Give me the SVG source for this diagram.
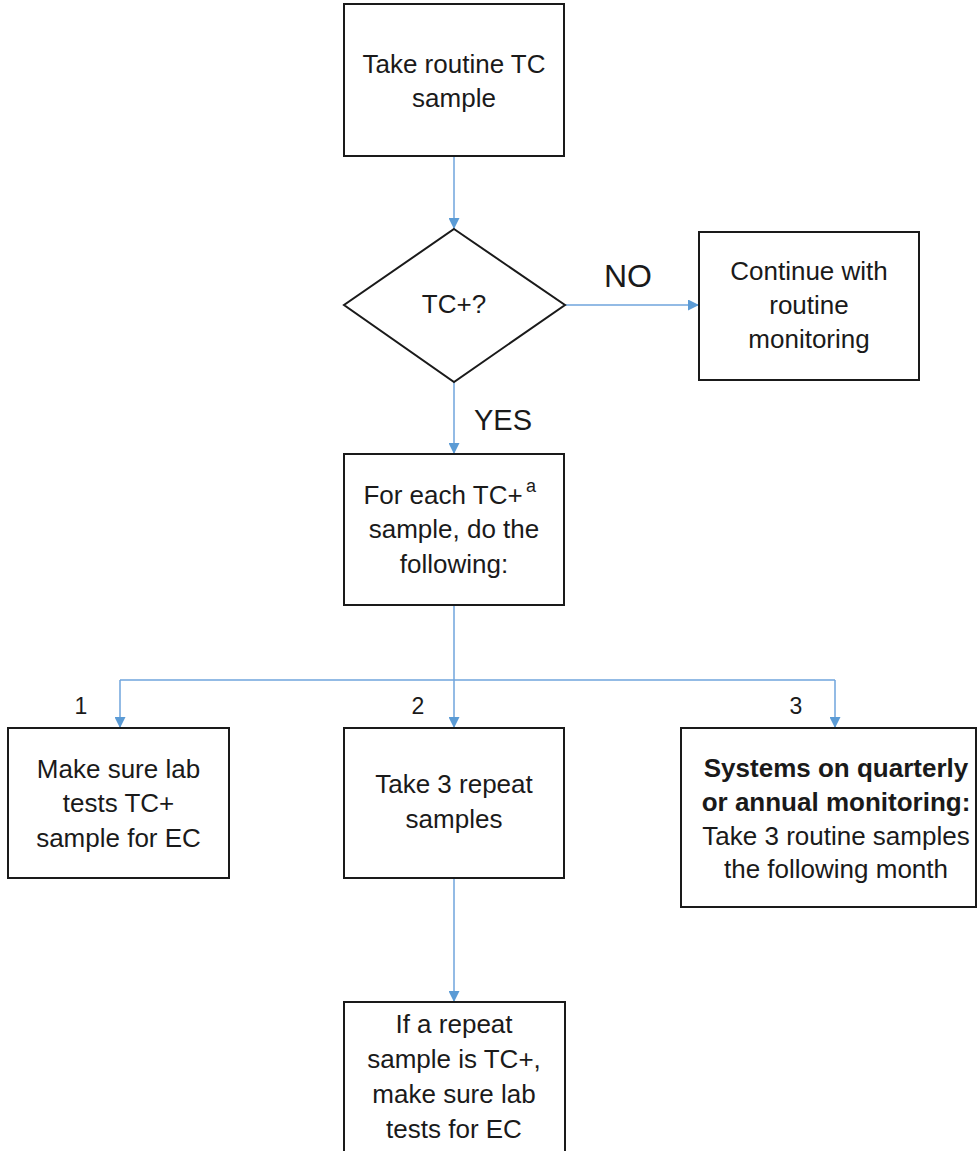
<svg xmlns="http://www.w3.org/2000/svg" width="979" height="1151" viewBox="0 0 979 1151">
  <defs>
    <marker id="arr" markerUnits="userSpaceOnUse" markerWidth="11" markerHeight="11" refX="11" refY="5.5" orient="auto">
      <path d="M0,0 L11,5.5 L0,11 z" fill="#5b9bd5"/>
    </marker>
    <style>
      .box { fill: #ffffff; stroke: #1a1a1a; stroke-width: 2; }
      .t { font-family: "Liberation Sans", Arial, sans-serif; font-size: 26px; fill: #1a1a1a; text-anchor: middle; }
      .b { font-weight: bold; }
      .lbl { font-family: "Liberation Sans", Arial, sans-serif; fill: #1a1a1a; }
      .con { fill: none; stroke: #6fa4dc; stroke-width: 1.5; }
    </style>
  </defs>
  <rect width="979" height="1151" fill="#ffffff"/>

  <g id="connectors">
    <line class="con" x1="454" y1="156" x2="454" y2="229" marker-end="url(#arr)"/>
    <line class="con" x1="565" y1="305" x2="699" y2="305" marker-end="url(#arr)"/>
    <line class="con" x1="454" y1="382" x2="454" y2="454" marker-end="url(#arr)"/>
    <line class="con" x1="454" y1="605" x2="454" y2="728" marker-end="url(#arr)"/>
    <polyline class="con" points="120,680 835,680"/>
    <line class="con" x1="120" y1="680" x2="120" y2="728" marker-end="url(#arr)"/>
    <line class="con" x1="835" y1="680" x2="835" y2="728" marker-end="url(#arr)"/>
    <line class="con" x1="454" y1="878" x2="454" y2="1002" marker-end="url(#arr)"/>
    <text class="lbl" x="604" y="287" font-size="32">NO</text>
    <text class="lbl" x="474" y="430" font-size="29">YES</text>
    <text class="lbl" x="81" y="714" font-size="23" text-anchor="middle">1</text>
    <text class="lbl" x="418" y="714" font-size="23" text-anchor="middle">2</text>
    <text class="lbl" x="796" y="714" font-size="23" text-anchor="middle">3</text>
  </g>

  <g id="n-take-routine">
    <rect class="box" x="344" y="4" width="220" height="152"/>
    <text class="t" x="454" y="73">Take routine TC</text>
    <text class="t" x="454" y="107">sample</text>
  </g>

  <g id="n-decision">
    <polygon class="box" points="454,229 565,305 454,382 344,305"/>
    <text class="t" x="454" y="313" font-size="21">TC+?</text>
  </g>

  <g id="n-continue">
    <rect class="box" x="699" y="232" width="220" height="148"/>
    <text class="t" x="809" y="280">Continue with</text>
    <text class="t" x="809" y="314">routine</text>
    <text class="t" x="809" y="348">monitoring</text>
  </g>

  <g id="n-for-each">
    <rect class="box" x="344" y="454" width="220" height="151"/>
    <text class="t" x="443" y="504">For each TC+</text>
    <text class="lbl" x="526" y="492" font-size="18">a</text>
    <text class="t" x="454" y="538">sample, do the</text>
    <text class="t" x="454" y="573">following:</text>
  </g>

  <g id="n-lab-tests">
    <rect class="box" x="8" y="728" width="221" height="150"/>
    <text class="t" x="118.5" y="778">Make sure lab</text>
    <text class="t" x="118.5" y="812">tests TC+</text>
    <text class="t" x="118.5" y="847">sample for EC</text>
  </g>

  <g id="n-repeat">
    <rect class="box" x="344" y="728" width="220" height="150"/>
    <text class="t" x="454" y="793">Take 3 repeat</text>
    <text class="t" x="454" y="828">samples</text>
  </g>

  <g id="n-systems">
    <rect class="box" x="681" y="728" width="295" height="179"/>
    <text class="t b" x="836" y="777">Systems on quarterly</text>
    <text class="t b" x="836" y="811">or annual monitoring:</text>
    <text class="t" x="836" y="845">Take 3 routine samples</text>
    <text class="t" x="836" y="878">the following month</text>
  </g>

  <g id="n-if-repeat">
    <rect class="box" x="344" y="1002" width="221" height="170"/>
    <text class="t" x="454" y="1033">If a repeat</text>
    <text class="t" x="454" y="1068">sample is TC+,</text>
    <text class="t" x="454" y="1103">make sure lab</text>
    <text class="t" x="454" y="1138">tests for EC</text>
  </g>
</svg>
